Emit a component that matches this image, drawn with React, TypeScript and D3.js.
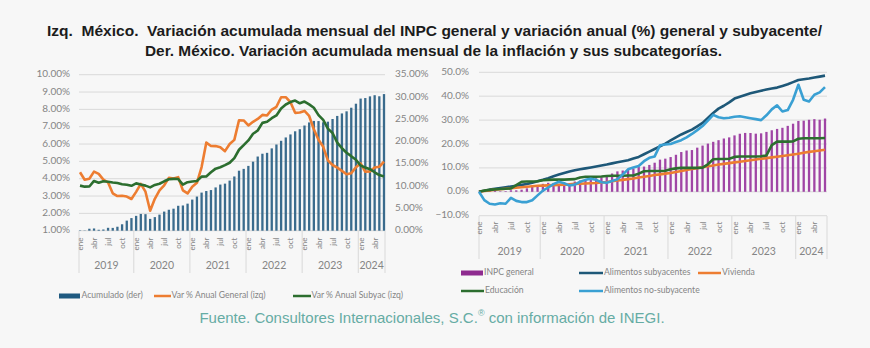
import React from "react";
import * as d3 from "d3";

const MONTHS = ["ene", "feb", "mar", "abr", "may", "jun", "jul", "ago", "sep", "oct", "nov", "dic"];
const YEARS = ["2019", "2020", "2021", "2022", "2023", "2024"];
const categories = YEARS.flatMap((y) => MONTHS.map((m) => `${m}-${y}`)).slice(0, 66);

// Left chart
const acumulado = [
  0.09, 0.06, 0.44, 0.5, 0.21, 0.27, 0.65, 0.63, 0.89, 1.44, 2.26, 2.83,
  3.33, 3.76, 3.71, 2.65, 3.05, 3.61, 4.29, 4.7, 4.94, 5.59, 5.66, 6.07,
  6.98, 7.66, 8.55, 8.9, 9.12, 9.71, 10.35, 10.56, 11.24, 12.17, 13.46, 13.87,
  14.54, 15.49, 16.64, 17.27, 17.47, 18.47, 19.34, 20.17, 20.92, 21.6, 22.3, 22.77,
  23.6, 24.29, 24.63, 24.6, 24.33, 24.46, 25.06, 25.75, 26.31, 26.78, 27.59, 28.49,
  29.64, 29.76, 30.14, 30.4, 30.16, 30.65,
];
const anualGeneral = [
  4.37, 3.94, 4.0, 4.41, 4.28, 3.95, 3.78, 3.16, 3.0, 3.02, 2.97, 2.83,
  3.24, 3.7, 3.25, 2.15, 2.84, 3.33, 3.62, 4.05, 4.01, 4.09, 3.33, 3.15,
  3.54, 3.76, 4.67, 6.08, 5.89, 5.88, 5.81, 5.59, 6.0, 6.24, 7.37, 7.36,
  7.07, 7.28, 7.45, 7.68, 7.65, 7.99, 8.15, 8.7, 8.7, 8.41, 7.8, 7.82,
  7.91, 7.62, 6.85, 6.25, 5.84, 5.06, 4.79, 4.64, 4.45, 4.26, 4.32, 4.66,
  4.88, 4.4, 4.42, 4.65, 4.69, 4.98,
];
const anualSubyac = [
  3.6, 3.54, 3.55, 3.87, 3.77, 3.85, 3.82, 3.78, 3.75, 3.68, 3.65, 3.59,
  3.73, 3.66, 3.6, 3.5, 3.64, 3.71, 3.85, 3.97, 3.99, 3.98, 3.66, 3.8,
  3.84, 3.87, 4.12, 4.13, 4.37, 4.58, 4.66, 4.78, 4.92, 5.19, 5.67, 5.94,
  6.21, 6.59, 6.78, 7.22, 7.28, 7.49, 7.65, 8.05, 8.28, 8.42, 8.51, 8.35,
  8.45, 8.29, 8.09, 7.67, 7.39, 6.89, 6.64, 6.08, 5.76, 5.5, 5.3, 5.09,
  4.76, 4.64, 4.55, 4.37, 4.21, 4.13,
];

// Right chart
const alimSubyac = [
  0, 0.4, 0.9, 1.3, 1.6, 1.9, 2.2, 2.5, 2.9, 3.3, 3.8, 4.4,
  5.0, 5.7, 6.5, 7.2, 7.9, 8.5, 9.0, 9.4, 9.8, 10.2, 10.6, 11.0,
  11.4, 11.9, 12.4, 12.8, 13.2, 13.9, 14.6, 15.7, 16.8, 17.9, 19.0, 20.2,
  21.5, 22.8, 24.0, 25.0, 26.0, 27.4, 28.8, 30.9, 33.0, 34.8, 36.0, 37.4,
  39.0, 39.8, 40.5, 41.2, 41.8, 42.3, 42.8, 43.2, 43.6, 44.3, 45.0, 45.9,
  46.8, 47.1, 47.4, 47.8, 48.2, 48.6,
];
const alimNoSubyac = [
  0, -3.5, -5.0, -5.3, -4.8, -5.0, -2.5, -3.8, -4.3, -4.3, -3.5, -1.5,
  0.5, 1.8, 3.2, 4.2, 3.6, 2.6, 3.0, 4.2, 5.0, 5.5, 5.0, 4.0,
  3.8, 4.5, 5.2, 7.2, 9.4, 10.2, 10.8, 12.8, 14.2, 14.8, 19.5, 19.8,
  20.0, 20.8, 21.6, 22.8, 24.2, 25.8, 27.5, 29.8, 32.2, 31.2, 30.8, 31.0,
  31.4, 31.6, 31.2, 30.8, 30.4, 30.0, 32.0, 34.5, 36.2, 33.6, 34.2, 38.5,
  44.8, 38.5, 37.8, 40.6, 41.6, 43.8,
];
const vivienda = [
  0, 0.3, 0.6, 0.9, 1.1, 1.3, 1.5, 1.7, 1.9, 2.1, 2.3, 2.5,
  2.6, 2.7, 2.8, 2.9, 3.0, 3.1, 3.3, 3.4, 3.5, 3.6, 3.7, 3.9,
  4.1, 4.4, 4.7, 5.0, 5.3, 5.6, 6.0, 6.3, 6.6, 7.0, 7.3, 7.6,
  7.9, 8.3, 8.7, 9.1, 9.5, 9.9, 10.3, 10.7, 11.0, 11.4, 11.7, 12.0,
  12.3, 12.6, 12.9, 13.2, 13.5, 13.8, 14.1, 14.4, 14.7, 15.0, 15.3, 15.6,
  15.9, 16.3, 16.7, 17.0, 17.3, 17.6,
];
const educacion = [
  0, 0.5, 0.8, 1.0, 1.2, 1.3, 1.4, 2.8, 4.2, 4.3, 4.3, 4.4,
  4.8, 5.0, 5.1, 5.1, 5.1, 5.2, 5.3, 6.0, 6.3, 6.3, 6.3, 6.4,
  6.6, 6.7, 6.7, 6.7, 6.8, 6.8, 7.6, 8.6, 8.7, 8.7, 8.7, 8.8,
  9.4, 9.8, 10.0, 10.0, 10.0, 10.0, 10.1, 11.5, 13.6, 13.7, 13.7, 13.8,
  14.6, 14.8, 14.8, 14.8, 14.8, 14.9, 15.2, 19.5, 21.0, 21.0, 21.0, 21.1,
  22.2, 22.4, 22.4, 22.4, 22.4, 22.5,
];

const leftTicks = [1, 2, 3, 4, 5, 6, 7, 8, 9, 10];
const rightTicks = [0, 5, 10, 15, 20, 25, 30, 35];
const rTicks = [-10, 0, 10, 20, 30, 40, 50];
const shownMonths = ["ene", "abr", "jul", "oct"];

const C = {
  bg: "#f7f7f7",
  grid: "#d9d9d9",
  axisText: "#858585",
  barL: "#3a6b8d",
  orange: "#ed7d31",
  green: "#2c6e2f",
  purple: "#a045a5",
  dark: "#1e5878",
  light: "#3aa0d3",
};

const FONT = "Lato, 'Open Sans', sans-serif";

function CategoryAxis({ x, x0, x1, yTop, yBottom, monthY, yearY, fontMonth }: any) {
  const step = x(categories[1]) - x(categories[0]);
  const seps = [x0];
  YEARS.forEach((_, k) => {
    if (k > 0) seps.push(x(categories[k * 12]) - step / 2);
  });
  seps.push(x1);
  return (
    <g>
      {seps.map((s, k) => (
        <line key={k} x1={s} x2={s} y1={yTop} y2={yBottom} stroke={C.grid} strokeWidth={1} />
      ))}
      {categories.map((c, i) => {
        const m = MONTHS[i % 12];
        if (!shownMonths.includes(m)) return null;
        const px = x(c) + 3;
        return (
          <text
            key={c}
            transform={`translate(${px},${monthY}) rotate(-90)`}
            textAnchor="end"
            fontSize={fontMonth}
            fill={C.axisText}
            fontFamily={FONT}
          >
            {m}
          </text>
        );
      })}
      {YEARS.map((yr, k) => {
        const a = seps[k];
        const b = seps[k + 1];
        return (
          <text
            key={yr}
            x={(a + b) / 2}
            y={yearY}
            textAnchor="middle"
            dominantBaseline="middle"
            fontSize={10.5}
            fill={C.axisText}
            fontFamily={FONT}
          >
            {yr}
          </text>
        );
      })}
    </g>
  );
}

function LeftChart() {
  const x = d3.scalePoint<string>().domain(categories).range([80, 384]).padding(0);
  const yL = d3.scaleLinear().domain([1, 10]).range([230.7, 74.7]);
  const yR = d3.scaleLinear().domain([0, 35]).range([230.7, 74.7]);
  const line = (arr: number[]) =>
    d3
      .line<number>()
      .x((_, i) => x(categories[i]) as number)
      .y((d) => yL(d))(arr) as string;
  const bw = 2.3;
  return (
    <g>
      {leftTicks.map((t) => (
        <g key={t}>
          <line x1={79} x2={385} y1={yL(t)} y2={yL(t)} stroke={C.grid} strokeWidth={1} />
          <text x={70} y={yL(t)} textAnchor="end" dominantBaseline="middle" fontSize={10} fill={C.axisText} fontFamily={FONT}>
            {d3.format(".2f")(t)}%
          </text>
        </g>
      ))}
      {rightTicks.map((t) => (
        <text key={t} x={395} y={yR(t)} textAnchor="start" dominantBaseline="middle" fontSize={10} fill={C.axisText} fontFamily={FONT}>
          {d3.format(".2f")(t)}%
        </text>
      ))}
      {acumulado.map((v, i) => (
        <rect
          key={i}
          x={(x(categories[i]) as number) - bw / 2}
          y={yR(v)}
          width={bw}
          height={yR(0) - yR(v)}
          fill={C.barL}
        />
      ))}
      <path d={line(anualGeneral)} fill="none" stroke={C.orange} strokeWidth={2.6} strokeLinejoin="round" />
      <path d={line(anualSubyac)} fill="none" stroke={C.green} strokeWidth={2.6} strokeLinejoin="round" />
      <CategoryAxis x={x} x0={79} x1={385} yTop={231} yBottom={273} monthY={237.5} yearY={266} fontMonth={8} />
      {/* legend */}
      <g fontFamily={FONT} fontSize={8.6} fill={C.axisText}>
        <rect x={59} y={293.5} width={21} height={5} fill="#1f5a80" />
        <text x={81.5} y={296} dominantBaseline="middle">Acumulado (der)</text>
        <line x1={154} x2={171} y1={296} y2={296} stroke={C.orange} strokeWidth={2.5} />
        <text x={171.5} y={296} dominantBaseline="middle">Var % Anual General (izq)</text>
        <line x1={293} x2={311} y1={296} y2={296} stroke={C.green} strokeWidth={2.5} />
        <text x={311.5} y={296} dominantBaseline="middle">Var % Anual Subyac (izq)</text>
      </g>
    </g>
  );
}

function RightChart() {
  const x = d3.scalePoint<string>().domain(categories).range([479, 825]).padding(0);
  const y = d3.scaleLinear().domain([-10, 50]).range([215.7, 72.3]);
  const line = (arr: number[]) =>
    d3
      .line<number>()
      .x((_, i) => x(categories[i]) as number)
      .y((d) => y(d))(arr) as string;
  const bw = 2.3;
  const series = [
    { data: alimSubyac, color: C.dark },
    { data: vivienda, color: C.orange },
    { data: educacion, color: C.green },
    { data: alimNoSubyac, color: C.light },
  ];
  return (
    <g>
      {rTicks.map((t) => (
        <g key={t}>
          <line x1={479} x2={827} y1={y(t)} y2={y(t)} stroke={C.grid} strokeWidth={1} />
          <text x={469} y={y(t)} textAnchor="end" dominantBaseline="middle" fontSize={10} fill={C.axisText} fontFamily={FONT}>
            {d3.format(".1f")(t)}%
          </text>
        </g>
      ))}
      {acumulado.map((v, i) => (
        <rect
          key={i}
          x={(x(categories[i]) as number) - bw / 2}
          y={y(v)}
          width={bw}
          height={y(0) - y(v)}
          fill={C.purple}
        />
      ))}
      {series.map((s, k) => (
        <path key={k} d={line(s.data)} fill="none" stroke={s.color} strokeWidth={2.6} strokeLinejoin="round" />
      ))}
      <CategoryAxis x={x} x0={479} x1={827} yTop={216} yBottom={259} monthY={221.5} yearY={252} fontMonth={8} />
      <g fontFamily={FONT} fontSize={8.6} fill={C.axisText}>
        <rect x={461} y={270.5} width={22} height={5} fill="#8e2b8f" />
        <text x={484} y={273} dominantBaseline="middle">INPC general</text>
        <line x1={579} x2={603} y1={273} y2={273} stroke={C.dark} strokeWidth={2.5} />
        <text x={604} y={273} dominantBaseline="middle">Alimentos subyacentes</text>
        <line x1={698} x2={721} y1={273} y2={273} stroke={C.orange} strokeWidth={2.5} />
        <text x={722} y={273} dominantBaseline="middle">Vivienda</text>
        <line x1={461} x2={484} y1={291} y2={291} stroke={C.green} strokeWidth={2.5} />
        <text x={485} y={291} dominantBaseline="middle">Educación</text>
        <line x1={579} x2={603} y1={291} y2={291} stroke={C.light} strokeWidth={2.5} />
        <text x={604} y={291} dominantBaseline="middle">Alimentos no-subyacente</text>
      </g>
    </g>
  );
}

export default function App() {
  const titleFont = "'Liberation Sans Narrow', 'Arial Narrow', 'Liberation Sans', Arial, sans-serif";
  return (
    <svg
      width={870}
      height={348}
      style={{ position: "absolute", left: 0, top: 0, display: "block" }}
      xmlns="http://www.w3.org/2000/svg"
    >
      <rect x={0} y={0} width={870} height={348} fill={C.bg} />
      <text
        x={434.5}
        y={35.5}
        textAnchor="middle"
        fontFamily={titleFont}
        fontWeight="bold"
        fontSize={15.5}
        fill="#1c1c1c"
        textLength={775}
        lengthAdjust="spacingAndGlyphs"
        style={{ whiteSpace: "pre" }}
      >
        {"Izq.  México.  Variación acumulada mensual del INPC general y variación anual (%) general y subyacente/"}
      </text>
      <text
        x={433.5}
        y={55.5}
        textAnchor="middle"
        fontFamily={titleFont}
        fontWeight="bold"
        fontSize={15.5}
        fill="#1c1c1c"
        textLength={577}
        lengthAdjust="spacingAndGlyphs"
      >
        Der. México. Variación acumulada mensual de la inflación y sus subcategorías.
      </text>
      <LeftChart />
      <RightChart />
      <text
        x={432}
        y={319}
        textAnchor="middle"
        dominantBaseline="middle"
        fontFamily="'Liberation Sans', Arial, sans-serif"
        fontSize={15}
        fill="#66aca4"
      >
        Fuente. Consultores Internacionales, S.C.
        <tspan fontSize={9} dy={-5}>®</tspan>
        <tspan dy={5}> con información de INEGI.</tspan>
      </text>
    </svg>
  );
}
